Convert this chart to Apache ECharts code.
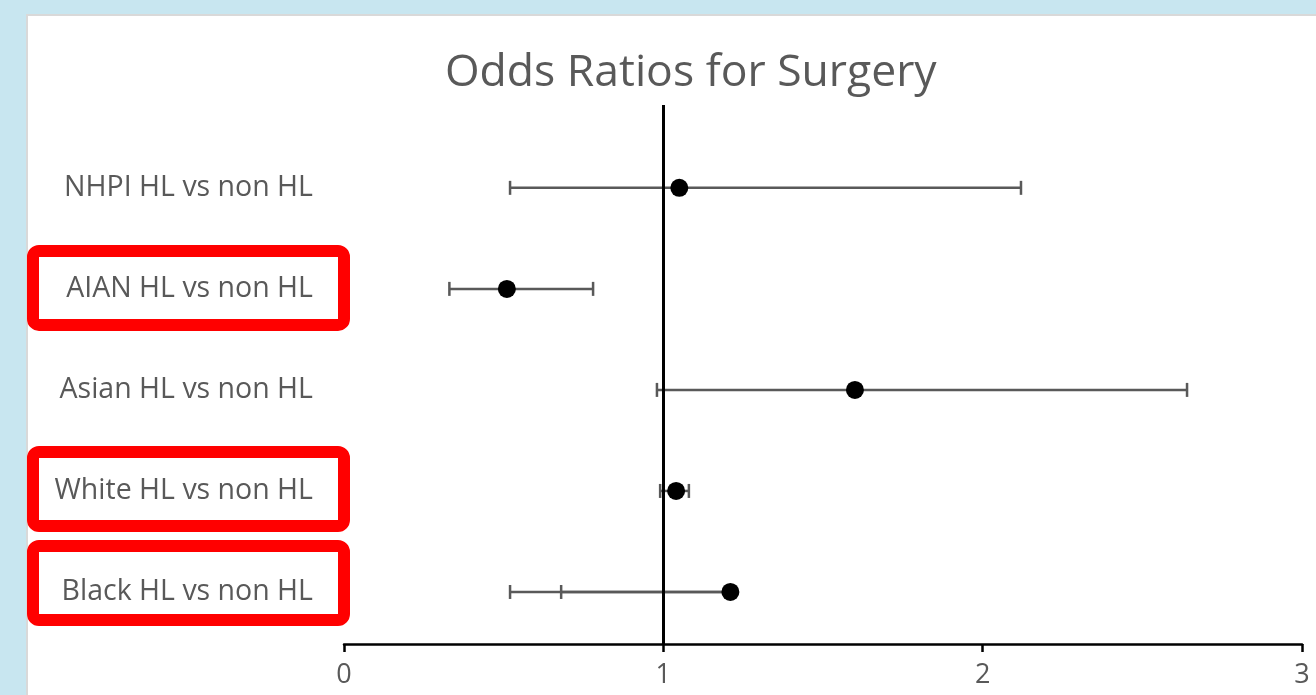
<!DOCTYPE html>
<html><head><meta charset="utf-8">
<script src="https://cdn.jsdelivr.net/npm/echarts@6/dist/echarts.min.js"></script>
<style>html,body{margin:0;padding:0;background:#c8e6f0;overflow:hidden}#c{width:1316px;height:695px}</style>
</head><body><div id="c"></div>
<script>
// ---- data (bottom to top) ----
const categories = ['Black HL vs non HL','White HL vs non HL','Asian HL vs non HL','AIAN HL vs non HL','NHPI HL vs non HL'];
const oddsRatio  = [1.21, 1.04, 1.60, 0.51, 1.05];
const ciLower    = [0.52, 0.99, 0.98, 0.33, 0.52];
const ciUpper    = [0.68, 1.08, 2.64, 0.78, 2.12];
const xTickValues = [0, 1, 2, 3];
const referenceOR = 1;
const highlighted = ['AIAN HL vs non HL','White HL vs non HL','Black HL vs non HL'];

// ---- styling / layout ----
const FONT = 'Open Sans';
const GREY = '#595959';
const boxOffsets = {'AIAN HL vs non HL': -38, 'White HL vs non HL': -39, 'Black HL vs non HL': -46};

const rowPos = categories.map((c, i) => i + 1);
const points = categories.map((c, i) => [oddsRatio[i], rowPos[i]]);
const bars = categories.map((c, i) => [oddsRatio[i], ciLower[i], ciUpper[i], rowPos[i]]);

const chart = echarts.init(document.getElementById('c'), null, {renderer: 'canvas'});
const option = {
  backgroundColor: 'transparent',
  animation: false,
  title: {
    text: 'Odds Ratios for Surgery', left: 440, top: 46,
    textStyle: {fontFamily: FONT, fontSize: 44.5, fontWeight: 'normal', color: GREY}
  },
  grid: {left: 344, right: 14, top: 105, bottom: 51, containLabel: false},
  xAxis: {
    type: 'value', min: 0, max: 3, interval: 1,
    axisLine: {show: true, lineStyle: {color: '#000', width: 2.5}},
    axisTick: {show: true, inside: false, length: 8, lineStyle: {color: '#000', width: 2.5}},
    axisLabel: {color: GREY, fontFamily: FONT, fontSize: 27, margin: 18,
                customValues: xTickValues},
    splitLine: {show: false}
  },
  yAxis: {
    type: 'value', min: 0.485, max: 5.82,
    axisLine: {show: false}, axisTick: {show: false}, splitLine: {show: false},
    axisLabel: {
      show: true, customValues: rowPos, margin: 31,
      color: GREY, fontFamily: FONT, fontSize: 28.5,
      formatter: v => categories[Math.round(v) - 1] || ''
    }
  },
  series: [
    {
      type: 'custom', silent: true, z: 3,
      data: bars,
      encode: {x: [0, 1, 2], y: 3},
      renderItem: (params, api) => {
        const est = api.coord([api.value(0), api.value(3)]);
        const lo = api.coord([api.value(1), api.value(3)]);
        const hi = api.coord([api.value(2), api.value(3)]);
        const h = 7;
        const st = {stroke: GREY, lineWidth: 2.5};
        return {type: 'group', children: [
          {type: 'line', shape: {x1: est[0], y1: est[1], x2: lo[0], y2: lo[1]}, style: st},
          {type: 'line', shape: {x1: est[0], y1: est[1], x2: hi[0], y2: hi[1]}, style: st},
          {type: 'line', shape: {x1: lo[0], y1: lo[1] - h, x2: lo[0], y2: lo[1] + h}, style: st},
          {type: 'line', shape: {x1: hi[0], y1: hi[1] - h, x2: hi[0], y2: hi[1] + h}, style: st}
        ]};
      }
    },
    {
      type: 'scatter', z: 5, data: points, symbol: 'circle', symbolSize: [18, 18],
      itemStyle: {color: '#000', opacity: 1},
      markLine: {
        silent: true, symbol: 'none', z: 4,
        lineStyle: {color: '#000', width: 3, type: 'solid', opacity: 1},
        label: {show: false},
        data: [{xAxis: referenceOR}]
      }
    }
  ]
};
chart.setOption(option);

// panel + annotation boxes
const g = [{
  type: 'rect', z: -10, silent: true,
  shape: {x: 27, y: 15, width: 1400, height: 800},
  style: {fill: '#fff', stroke: '#d9d9d9', lineWidth: 2}
}];
highlighted.forEach(name => {
  const i = categories.indexOf(name);
  const y = chart.convertToPixel({gridIndex: 0}, [0, rowPos[i]])[1];
  g.push({
    type: 'rect', z: 100, silent: true,
    shape: {x: 33, y: y + boxOffsets[name], width: 311, height: 74, r: 6},
    style: {fill: 'none', stroke: '#ff0000', lineWidth: 12}
  });
});
chart.setOption({graphic: g});
</script></body></html>
